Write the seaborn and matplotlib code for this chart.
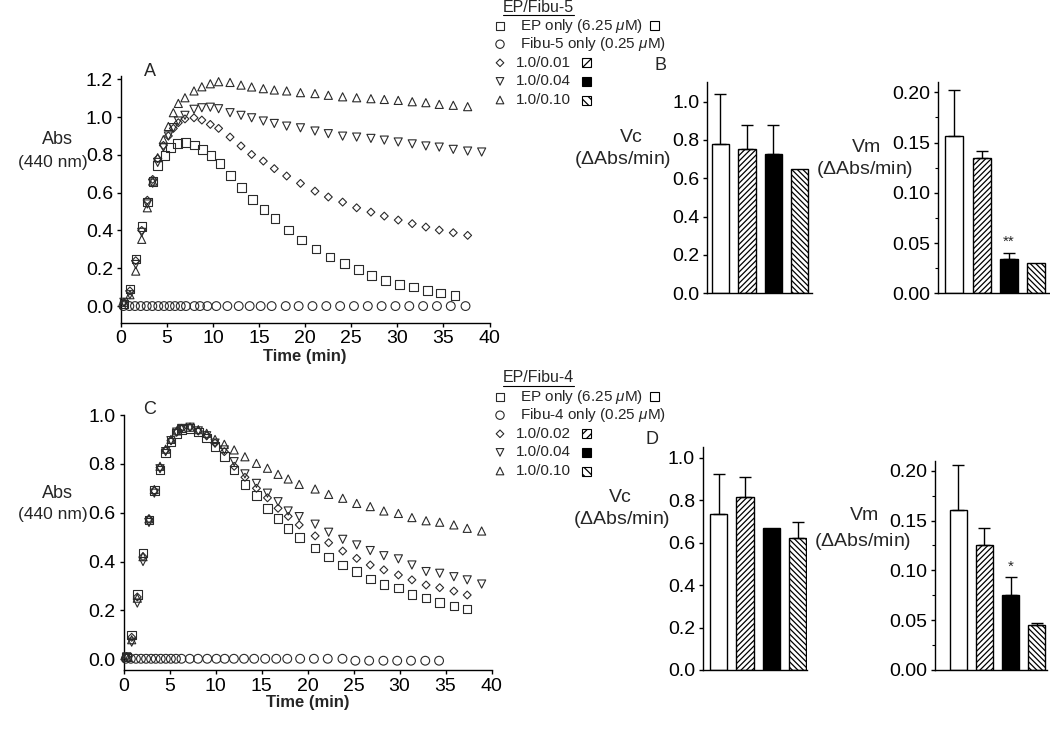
import numpy as np
import pandas as pd
import matplotlib
matplotlib.use("Agg")
import matplotlib.pyplot as plt
import seaborn as sns
from matplotlib.patches import Rectangle
from matplotlib.ticker import MultipleLocator, FormatStrFormatter

# ---------------- data: panel A (EP / Fibu-5) ----------------
tA_sq = [0.35, 1.0, 1.66, 2.3, 2.9, 3.5, 4.01, 4.8, 5.42, 6.14, 7.05, 7.98, 8.89, 9.79, 10.77, 11.93,
         13.12, 14.32, 15.54, 16.74, 18.18, 19.6, 21.18, 22.7, 24.25, 25.77, 27.22, 28.74, 30.22,
         31.74, 33.25, 34.7, 36.26]
A_sq = [0.01, 0.09, 0.25, 0.42, 0.55, 0.66, 0.745, 0.797, 0.838, 0.861, 0.864, 0.852, 0.829, 0.797,
        0.755, 0.691, 0.626, 0.564, 0.511, 0.462, 0.402, 0.349, 0.303, 0.259, 0.224, 0.194, 0.162,
        0.136, 0.115, 0.10, 0.083, 0.07, 0.057]
tA = [0.35, 1.0, 1.63, 2.28, 2.89, 3.47, 4.01, 4.63, 5.17, 5.71, 6.25, 6.97, 7.95, 8.8, 9.72, 10.62,
      11.86, 13.05, 14.2, 15.47, 16.66, 18.0, 19.5, 21.07, 22.52, 24.07, 25.59, 27.14, 28.59, 30.1,
      31.62, 33.1, 34.55, 36.07, 37.63, 39.15]
A_dia = [0.02, 0.08, 0.24, 0.40, 0.56, 0.67, 0.78, 0.85, 0.90, 0.94, 0.97, 0.99, 0.996, 0.984, 0.961,
         0.94, 0.894, 0.847, 0.802, 0.767, 0.727, 0.688, 0.649, 0.608, 0.577, 0.55, 0.52, 0.497,
         0.476, 0.455, 0.436, 0.418, 0.402, 0.388, 0.374]
A_down = [0.02, 0.06, 0.22, 0.39, 0.54, 0.65, 0.76, 0.84, 0.90, 0.944, 0.979, 1.009, 1.041, 1.049,
          1.052, 1.044, 1.023, 1.009, 0.996, 0.979, 0.966, 0.952, 0.943, 0.926, 0.912, 0.899, 0.894,
          0.887, 0.878, 0.868, 0.858, 0.847, 0.841, 0.829, 0.82, 0.815]
A_up = [0.02, 0.06, 0.185, 0.353, 0.52, 0.661, 0.785, 0.88, 0.95, 1.023, 1.072, 1.102, 1.138, 1.16,
        1.176, 1.187, 1.183, 1.169, 1.159, 1.15, 1.143, 1.138, 1.129, 1.124, 1.115, 1.107, 1.102,
        1.097, 1.093, 1.088, 1.081, 1.076, 1.067, 1.062, 1.055]
tA_ci = [0.3, 0.94, 1.55, 2.17, 2.82, 3.43, 4.08, 4.70, 5.31, 5.89, 6.51, 7.08, 7.99, 8.60, 9.40,
         10.37, 11.57, 12.8, 13.99, 15.18, 16.37, 17.9, 19.3, 20.8, 22.3, 23.8, 25.3, 26.8, 28.3,
         29.8, 31.3, 32.8, 34.3, 35.8, 37.4]
A_ci = [0.0, 0.0, 0.0, 0.0, 0.0, 0.0, 0.0, 0.0, 0.0, 0.0, 0.0, 0.0, 0.0, 0.0, 0.0, 0.0, 0.0, 0.0,
        0.0, 0.0, 0.0, 0.0, 0.0, 0.0, 0.0, 0.0, 0.0, 0.0, 0.0, 0.0, 0.0, 0.0, 0.0, 0.0, 0.0]

# ---------------- data: panel C (EP / Fibu-4) ----------------
tC = [0.35, 0.89, 1.5, 2.12, 2.77, 3.35, 3.97, 4.58, 5.16, 5.78, 6.32, 7.23, 8.13, 9.04, 9.95, 10.96,
      12.03, 13.2, 14.45, 15.65, 16.8, 17.9, 19.1, 20.83, 22.3, 23.83, 25.35, 26.82, 28.3, 29.88,
      31.35, 32.89, 34.37, 35.91, 37.36, 38.93]
C_sq = [0.01, 0.10, 0.265, 0.435, 0.57, 0.69, 0.775, 0.845, 0.89, 0.925, 0.94, 0.945, 0.93, 0.905,
        0.87, 0.829, 0.775, 0.716, 0.67, 0.618, 0.577, 0.536, 0.498, 0.455, 0.418, 0.386, 0.359,
        0.329, 0.307, 0.291, 0.266, 0.25, 0.233, 0.218, 0.206]
C_dia = [0.01, 0.09, 0.255, 0.42, 0.575, 0.69, 0.785, 0.855, 0.895, 0.93, 0.945, 0.95, 0.935, 0.915,
         0.885, 0.85, 0.79, 0.745, 0.70, 0.661, 0.618, 0.585, 0.55, 0.505, 0.477, 0.443, 0.413,
         0.386, 0.366, 0.345, 0.325, 0.304, 0.293, 0.279, 0.263]
C_down = [0.01, 0.07, 0.23, 0.40, 0.56, 0.68, 0.78, 0.85, 0.895, 0.93, 0.945, 0.95, 0.935, 0.915,
          0.885, 0.857, 0.809, 0.759, 0.72, 0.68, 0.645, 0.607, 0.584, 0.553, 0.52, 0.491, 0.468,
          0.445, 0.424, 0.411, 0.386, 0.359, 0.352, 0.338, 0.325, 0.308]
C_up = [0.01, 0.08, 0.25, 0.42, 0.575, 0.695, 0.79, 0.86, 0.90, 0.935, 0.945, 0.95, 0.94, 0.925,
        0.90, 0.88, 0.857, 0.829, 0.802, 0.782, 0.757, 0.738, 0.716, 0.697, 0.675, 0.659, 0.638,
        0.625, 0.607, 0.597, 0.58, 0.567, 0.561, 0.55, 0.536, 0.525]
tC_ci = [0.25, 0.8, 1.35, 1.9, 2.45, 3.0, 3.5, 4.05, 4.6, 5.15, 5.7, 6.3, 7.2, 8.1, 9.1, 10.1, 11.0,
         12.0, 13.1, 14.2, 15.4, 16.6, 17.8, 19.2, 20.7, 22.2, 23.8, 25.2, 26.7, 28.25, 29.75,
         31.25, 32.8, 34.3]
C_ci = [0.002, 0.002, 0.002, 0.002, 0.002, 0.002, 0.002, 0.002, 0.002, 0.002, 0.002, 0.002, 0.002,
        0.002, 0.002, 0.002, 0.002, 0.002, 0.002, 0.002, 0.002, 0.002, 0.002, 0.002, 0.002, 0.002,
        0.002, -0.006, -0.006, -0.006, -0.006, -0.006, -0.006, -0.006]

# ---------------- data: bar panels ----------------
groups = ["EP only", "low", "1.0/0.04", "1.0/0.10"]
B_vc = [0.777, 0.751, 0.727, 0.648]
B_vc_err = [0.261, 0.125, 0.149, 0.0]
B_vm = [0.1565, 0.135, 0.0344, 0.0305]
B_vm_err = [0.046, 0.007, 0.006, 0.0]
D_vc = [0.734, 0.813, 0.667, 0.62]
D_vc_err = [0.188, 0.095, 0.0, 0.078]
D_vm = [0.1606, 0.1255, 0.0753, 0.045]
D_vm_err = [0.045, 0.0175, 0.0177, 0.002]

legend_top = ["EP only (6.25 $\\mu$M)", "Fibu-5 only (0.25 $\\mu$M)", "1.0/0.01", "1.0/0.04", "1.0/0.10"]
legend_bot = ["EP only (6.25 $\\mu$M)", "Fibu-4 only (0.25 $\\mu$M)", "1.0/0.02", "1.0/0.04", "1.0/0.10"]

# ---------------- style ----------------
sns.set_theme(style="ticks")
plt.rcParams['font.family'] = ['Liberation Sans', 'DejaVu Sans']
plt.rcParams['mathtext.fontset'] = 'custom'
plt.rcParams['mathtext.it'] = 'Liberation Sans:italic'
plt.rcParams['mathtext.rm'] = 'Liberation Sans'
plt.rcParams['hatch.linewidth'] = 0.9
plt.rcParams['axes.linewidth'] = 1.0
plt.rcParams['axes.edgecolor'] = 'black'
for a in ('x', 'y'):
    plt.rcParams[f'{a}tick.major.size'] = 3
    plt.rcParams[f'{a}tick.major.width'] = 1.0
    plt.rcParams[f'{a}tick.major.pad'] = 2.5
    plt.rcParams[f'{a}tick.minor.size'] = 2
    plt.rcParams[f'{a}tick.minor.width'] = 0.8
    plt.rcParams[f'{a}tick.labelsize'] = 14
    plt.rcParams[f'{a}tick.color'] = 'black'

W, H = 1050, 740
fig = plt.figure(figsize=(W / 100, H / 100), dpi=100)


def add_ax(left, top, right, bottom):
    return fig.add_axes([left / W, 1 - bottom / H, (right - left) / W, (bottom - top) / H])


EC = '#2a2a2a'


def pts(ax, t, v, marker, s):
    sns.scatterplot(x=t, y=v, ax=ax, marker=marker, s=s, facecolor='none', edgecolor=EC,
                    linewidth=0.8, legend=False, zorder=3, clip_on=False)


def kinetic(ax, series, ylim, yticks):
    for t, v, m, s in series:
        pts(ax, t, v, m, s)
    ax.set_xlim(0, 40)
    ax.set_ylim(*ylim)
    ax.set_xticks(range(0, 41, 5))
    ax.set_yticks(yticks)
    ax.yaxis.set_major_formatter(FormatStrFormatter('%.1f'))
    ax.set_xlabel('')
    ax.set_ylabel('')
    sns.despine(ax=ax)


def bars(ax, vals, errs, xlim, ylim, yticks, fmt, minor=None):
    df = pd.DataFrame({'g': groups, 'v': vals})
    sns.barplot(data=df, x='g', y='v', order=groups, ax=ax, width=0.66, color='white',
                edgecolor='black', linewidth=1.0, errorbar=None, saturation=1)
    fills = ['white', 'white', 'black', 'white']
    hatches = [None, '//////', None, '\\\\\\\\\\\\']
    for p, f, h in zip(ax.patches, fills, hatches):
        p.set_facecolor(f)
        p.set_edgecolor('black')
        if h:
            p.set_hatch(h)
    xs = [i for i, e in enumerate(errs) if e > 0]
    ax.errorbar(xs, [vals[i] for i in xs], yerr=[[0] * len(xs), [errs[i] for i in xs]],
                fmt='none', ecolor='black', elinewidth=1.0, capsize=4, capthick=1.0, zorder=1)
    ax.set_xlim(*xlim)
    ax.set_ylim(*ylim)
    ax.set_xticks([])
    ax.set_yticks(yticks)
    ax.yaxis.set_major_formatter(FormatStrFormatter(fmt))
    if minor:
        ax.yaxis.set_minor_locator(MultipleLocator(minor))
    ax.set_xlabel('')
    ax.set_ylabel('')
    sns.despine(ax=ax)


# Panel A
axA = add_ax(120.7, 76.4, 489.5, 322.7)
kinetic(axA, [(tA_ci, A_ci, 'o', 40), (tA_sq, A_sq, 's', 38), (tA[:35], A_dia, 'D', 16),
              (tA, A_down, 'v', 34), (tA[:35], A_up, '^', 34)],
        (-0.088, 1.215), [0, 0.2, 0.4, 0.6, 0.8, 1.0, 1.2])

# Panel C
axC = add_ax(123.5, 415, 491.5, 670)
kinetic(axC, [(tC_ci, C_ci, 'o', 40), (tC[:35], C_sq, 's', 38), (tC[:35], C_dia, 'D', 16),
              (tC, C_down, 'v', 34), (tC, C_up, '^', 34)],
        (-0.044, 1.0), [0, 0.2, 0.4, 0.6, 0.8, 1.0])

# Panel B
axB1 = add_ax(707.3, 82.4, 811.7, 293.3)
bars(axB1, B_vc, B_vc_err, (-0.5, 3.46), (0, 1.1), [0, 0.2, 0.4, 0.6, 0.8, 1.0], '%.1f')
axB2 = add_ax(938, 82.2, 1050, 293.3)
bars(axB2, B_vm, B_vm_err, (-0.6, 3.5), (0, 0.21), [0, 0.05, 0.10, 0.15, 0.20], '%.2f', 0.025)
axB2.text(2, 0.0513, '**', ha='center', va='center', fontsize=11)

# Panel D
axD1 = add_ax(702.7, 446.9, 807.3, 670)
bars(axD1, D_vc, D_vc_err, (-0.6, 3.37), (0, 1.05), [0, 0.2, 0.4, 0.6, 0.8, 1.0], '%.1f')
axD2 = add_ax(935, 460.8, 1047, 670)
bars(axD2, D_vm, D_vm_err, (-0.9, 3.4), (0, 0.21), [0, 0.05, 0.10, 0.15, 0.20], '%.2f', 0.025)
axD2.text(2, 0.104, '*', ha='center', va='center', fontsize=11)

# Overlay for labels and legends (pixel coordinates)
ov = fig.add_axes([0, 0, 1, 1], zorder=-1)
ov.set_xlim(0, W)
ov.set_ylim(H, 0)
ov.axis('off')


def txt(x, y, s, size=13, ha='center', weight='normal'):
    ov.text(x, y, s, ha=ha, va='center', fontsize=size, fontweight=weight)


txt(150, 72, 'A'); txt(660, 66, 'B'); txt(150, 410, 'C'); txt(652, 440, 'D')
txt(57, 140, 'Abs'); txt(53, 162, '(440 nm)', size=12.5)
txt(57, 493, 'Abs'); txt(53, 515, '(440 nm)', size=12.5)
txt(305, 356, 'Time (min)', size=12, weight='bold')
txt(308, 703, 'Time (min)', size=12, weight='bold')
txt(631, 138, 'Vc', size=14); txt(623, 160, '($\\Delta$Abs/min)', size=14)
txt(867, 147, 'Vm', size=14); txt(865, 169, '($\\Delta$Abs/min)', size=14)
txt(620, 497, 'Vc', size=14); txt(622, 519, '($\\Delta$Abs/min)', size=14)
txt(865, 516, 'Vm', size=14); txt(863, 541, '($\\Delta$Abs/min)', size=14)

markers = [('s', 32), ('o', 36), ('D', 15), ('v', 30), ('^', 30)]
sw_style = [('white', None), None, ('white', '////'), ('black', None), ('white', '\\\\\\\\')]


def legend(header, y0, labels):
    txt(503, y0, header, size=11.5, ha='left')
    ov.plot([503, 574], [y0 + 8, y0 + 8], color='black', lw=0.8)
    for i, (lab, (m, s), sw) in enumerate(zip(labels, markers, sw_style)):
        y = y0 + 18.6 * (i + 1)
        ov.scatter([500], [y], marker=m, s=s, facecolor='none', edgecolor=EC, linewidth=0.8)
        tx = 520 if i < 2 else 516
        txt(tx, y, lab, size=11, ha='left')
        if sw is not None:
            sx = 654 if i == 0 else 586
            ov.add_patch(Rectangle((sx - 4.5, y - 4.5), 9, 9, facecolor=sw[0], edgecolor='black',
                                   lw=0.8, hatch=sw[1]))


legend('EP/Fibu-5', 7, legend_top)
legend('EP/Fibu-4', 378, legend_bot)

fig.savefig('out.png', dpi=100)
